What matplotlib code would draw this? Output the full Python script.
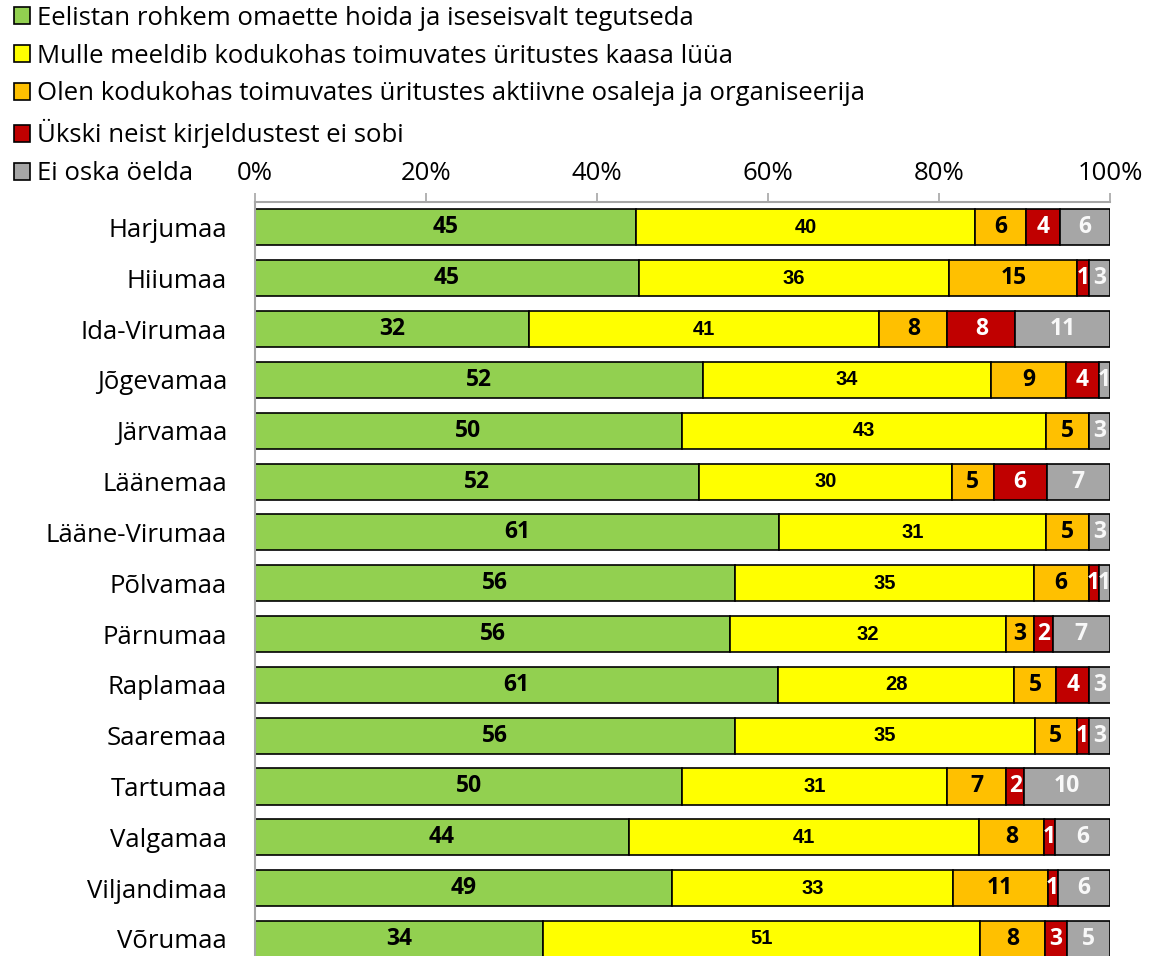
import numpy as np
import matplotlib
matplotlib.use("Agg")
import matplotlib.pyplot as plt

plt.rcParams['font.family'] = ['Open Sans', 'DejaVu Sans']

regions = ['Harjumaa', 'Hiiumaa', 'Ida-Virumaa', 'Jõgevamaa', 'Järvamaa', 'Läänemaa',
           'Lääne-Virumaa', 'Põlvamaa', 'Pärnumaa', 'Raplamaa', 'Saaremaa', 'Tartumaa',
           'Valgamaa', 'Viljandimaa', 'Võrumaa']

green = [44.6, 44.9, 32.0, 52.4, 49.9, 51.9, 61.3, 56.2, 55.6, 61.2, 56.2, 50.0, 43.7, 48.8, 33.7]
yellow = [39.6, 36.3, 41.0, 33.7, 42.6, 29.6, 31.2, 34.9, 32.2, 27.6, 35.0, 31.0, 41.0, 32.8, 51.1]
orange = [6.0, 15.0, 8.0, 8.8, 5.0, 4.9, 5.0, 6.4, 3.3, 4.9, 4.9, 6.9, 7.6, 11.1, 7.6]
red = [4.0, 1.3, 7.9, 3.8, 0.0, 6.2, 0.0, 1.2, 2.2, 3.9, 1.4, 2.1, 1.3, 1.2, 2.6]
gray = [5.8, 2.5, 11.1, 1.3, 2.5, 7.4, 2.5, 1.3, 6.7, 2.5, 2.5, 10.0, 6.4, 6.1, 5.0]

series_names = ['Eelistan rohkem omaette hoida ja iseseisvalt tegutseda',
                'Mulle meeldib kodukohas toimuvates üritustes kaasa lüüa',
                'Olen kodukohas toimuvates üritustes aktiivne osaleja ja organiseerija',
                'Ükski neist kirjeldustest ei sobi',
                'Ei oska öelda']
colors = ['#92D050', '#FFFF00', '#FFC000', '#C00000', '#A6A6A6']
label_colors = ['black', 'black', 'black', 'white', '#F8F8F8']
label_sizes = [16.5, 14.5, 16.5, 16.5, 16.5]
label_fonts = ['Open Sans', 'Liberation Sans', 'Open Sans', 'Open Sans', 'Open Sans']

fig = plt.figure(figsize=(11.49, 9.56), dpi=100)
ax = fig.add_axes([0.2219, 0.0, 0.7441, 0.7887])

y = np.arange(len(regions))
left = np.zeros(len(regions))
handles = []
for vals, col, lc, ls, lf, name in zip([green, yellow, orange, red, gray], colors,
                                       label_colors, label_sizes, label_fonts, series_names):
    vals = np.array(vals)
    bars = ax.barh(y, vals, left=left, height=0.71, color=col,
                   edgecolor='black', linewidth=1.2, label=name)
    handles.append(bars)
    for yi, l, v in zip(y, left, vals):
        if v > 0:
            ax.text(l + v / 2, yi, str(int(np.floor(v + 0.5))), ha='center', va='center',
                    fontsize=ls, fontweight='bold', color=lc, family=lf)
    left = left + vals

ax.set_xlim(0, 100)
ax.set_ylim(14.335, -0.5)
ax.set_yticks(y)
ax.set_yticklabels(regions, fontsize=18.5)
ax.tick_params(axis='y', length=0, pad=20)
ax.xaxis.tick_top()
ax.set_xticks(np.arange(0, 101, 20))
ax.set_xticklabels([f'{t}%' for t in range(0, 101, 20)], fontsize=18.5)
ax.tick_params(axis='x', length=6.5, width=1.2, color='#A6A6A6', pad=5)
for s in ['right', 'bottom']:
    ax.spines[s].set_visible(False)
for s in ['top', 'left']:
    ax.spines[s].set_color('#A6A6A6')
    ax.spines[s].set_linewidth(1.5)

fig.legend(handles=handles, labels=series_names, loc='upper left',
           bbox_to_anchor=(0.012, 0.994), frameon=False, fontsize=18.5,
           handlelength=0.65, handleheight=0.65, handletextpad=0.25,
           labelspacing=0.5, borderaxespad=0, borderpad=0.0)

fig.savefig('out.png', dpi=100)
